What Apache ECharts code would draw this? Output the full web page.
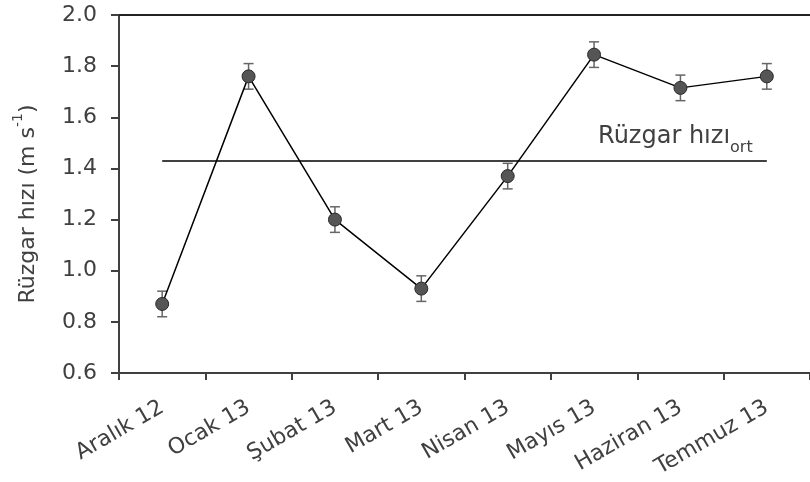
<!DOCTYPE html>
<html>
<head>
<meta charset="utf-8">
<script src="https://cdn.jsdelivr.net/npm/echarts@6/dist/echarts.min.js"></script>
<style>
  html, body { margin: 0; padding: 0; background: #fff; }
  #chart { width: 810px; height: 482px; }
</style>
</head>
<body>
<div id="chart"></div>
<script>
// Monthly wind speed with standard error
const months = ['Aralık 12', 'Ocak 13', 'Şubat 13', 'Mart 13', 'Nisan 13', 'Mayıs 13', 'Haziran 13', 'Temmuz 13'];
const windSpeed = [0.87, 1.76, 1.20, 0.93, 1.37, 1.845, 1.715, 1.76];
const windError = [0.05, 0.05, 0.05, 0.05, 0.05, 0.05, 0.05, 0.05];
const windMean = 1.43;
const yTicks = [0.6, 0.8, 1.0, 1.2, 1.4, 1.6, 1.8, 2.0];

const FONT = 'DejaVu Sans, Liberation Sans, sans-serif';
const AXIS = '#404040';
const TEXT = '#404040';

const errorData = months.map((m, i) => [i, windSpeed[i] - windError[i], windSpeed[i] + windError[i]]);

const chart = echarts.init(document.getElementById('chart'), null, { renderer: 'canvas' });

chart.setOption({
  animation: false,
  backgroundColor: '#fff',
  grid: { left: 119, right: -7, top: 15, bottom: 109 },
  xAxis: [
    {
      type: 'category',
      data: months,
      boundaryGap: true,
      axisLine: { lineStyle: { color: AXIS, width: 2 } },
      axisTick: { show: true, length: 7, alignWithLabel: false, lineStyle: { color: AXIS, width: 2 } },
      axisLabel: { interval: 0, rotate: 30, margin: 33, color: TEXT, fontSize: 22, fontFamily: FONT },
      splitLine: { show: false }
    },
    {
      type: 'category',
      position: 'top',
      data: months,
      axisLine: { lineStyle: { color: '#222', width: 2 } },
      axisTick: { show: false },
      axisLabel: { show: false },
      splitLine: { show: false }
    }
  ],
  yAxis: {
    type: 'value',
    min: yTicks[0],
    max: yTicks[yTicks.length - 1],
    interval: 0.2,
    axisLine: { show: true, lineStyle: { color: AXIS, width: 2 } },
    axisTick: { show: true, length: 8, lineStyle: { color: AXIS, width: 2 } },
    axisLabel: {
      margin: 22, color: TEXT, fontSize: 22, fontFamily: FONT,
      formatter: v => v.toFixed(1)
    },
    splitLine: { show: false },
    name: '{a|Rüzgar hızı (m s}{s|-1}{e|)}',
    nameLocation: 'middle',
    nameGap: 80,
    nameRotate: 90,
    nameTextStyle: {
      rich: {
        a: { fontSize: 22, fontFamily: FONT, color: TEXT, padding: [6, 0, 0, 0], verticalAlign: 'bottom' },
        s: { fontSize: 14, fontFamily: FONT, color: TEXT, verticalAlign: 'top' },
        e: { fontSize: 22, fontFamily: FONT, color: TEXT, padding: [6, 20, 0, 0], verticalAlign: 'bottom' }
      }
    }
  },
  series: [
    {
      name: 'hız',
      type: 'line',
      data: windSpeed,
      symbol: 'circle',
      symbolSize: 13,
      z: 3,
      lineStyle: { color: '#000', width: 1.5 },
      itemStyle: { color: '#555', borderColor: '#2a2a2a', borderWidth: 1 },
      markLine: {
        silent: true,
        symbol: 'none',
        lineStyle: { color: '#000', width: 1.5, type: 'solid' },
        label: { show: false },
        data: [[{ coord: [0, windMean] }, { coord: [months.length - 1, windMean] }]]
      },
      markPoint: {
        silent: true,
        symbol: 'circle',
        symbolSize: 0,
        data: [{ coord: [5, 1.51] }],
        label: {
          show: true,
          position: 'right',
          distance: 4,
          formatter: '{a|Rüzgar hızı}{b|ort}',
          rich: {
            a: { fontSize: 24, fontFamily: FONT, color: TEXT, padding: [0, 0, 8, 0], verticalAlign: 'bottom' },
            b: { fontSize: 16, fontFamily: FONT, color: TEXT, verticalAlign: 'bottom' }
          }
        }
      }
    },
    {
      name: 'hata',
      type: 'custom',
      z: 2,
      data: errorData,
      renderItem: function (params, api) {
        const x = api.value(0);
        const lo = api.coord([x, api.value(1)]);
        const hi = api.coord([x, api.value(2)]);
        const cap = 5;
        const style = { stroke: '#666', lineWidth: 1.5, fill: null };
        return {
          type: 'group',
          children: [
            { type: 'line', shape: { x1: lo[0], y1: lo[1], x2: hi[0], y2: hi[1] }, style },
            { type: 'line', shape: { x1: lo[0] - cap, y1: lo[1], x2: lo[0] + cap, y2: lo[1] }, style },
            { type: 'line', shape: { x1: hi[0] - cap, y1: hi[1], x2: hi[0] + cap, y2: hi[1] }, style }
          ]
        };
      }
    }
  ]
});
</script>
</body>
</html>
